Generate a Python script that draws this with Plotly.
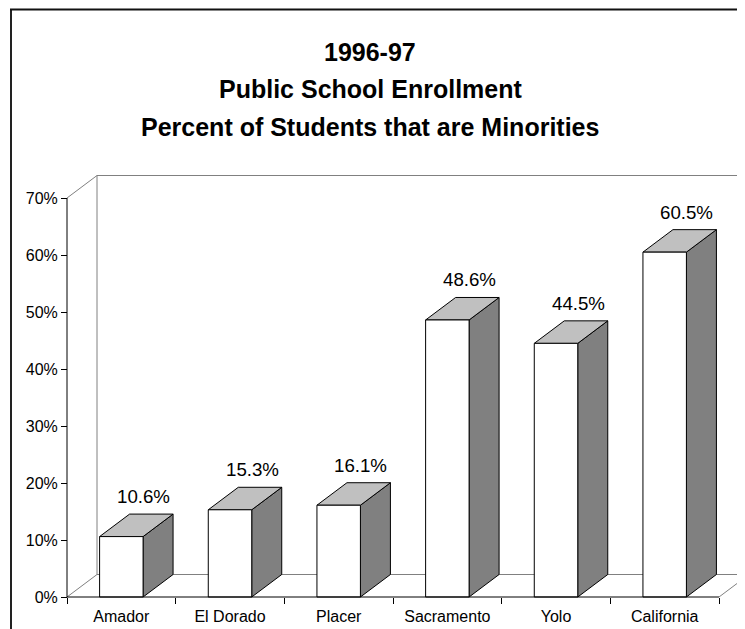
import plotly.graph_objects as go

# ---------------- data ----------------
categories = ["Amador", "El Dorado", "Placer", "Sacramento", "Yolo", "California"]
values = [10.6, 15.3, 16.1, 48.6, 44.5, 60.5]
y_ticks = [0, 10, 20, 30, 40, 50, 60, 70]
y_tick_labels = ["0%", "10%", "20%", "30%", "40%", "50%", "60%", "70%"]
title_lines = ["1996-97", "Public School Enrollment", "Percent of Students that are Minorities"]

# ---------------- layout geometry ----------------
OFF = 8                       # page body margin of the html page
W, H = 745 - OFF, 629 - OFF   # figure size so that it fills the window exactly
ML, MR, MT, MB = 30, 0, 140, 10
X0, CAT_W = 67 - OFF, 108.67  # pixel of first category boundary, width of a category
Y0, PX_PCT = 597 - OFF, 5.7   # pixel of 0 %, pixels per percent
DEPTH_X, DEPTH_Y = 30, 22.5   # 3-D depth offset in pixels
BAR_W = 0.4
FONT = "Liberation Sans, Arial, sans-serif"

x_rng = [(ML - X0) / CAT_W, (W - MR - X0) / CAT_W]
y_rng = [(Y0 - (H - MB)) / PX_PCT, (Y0 - MT) / PX_PCT]
dx = DEPTH_X / CAT_W
dy = DEPTH_Y / PX_PCT
PW, PH = W - ML - MR, H - MT - MB


def pxx(px):  # reference-window pixel -> paper x
    return (px - OFF - ML) / PW


def pxy(py):  # reference-window pixel -> paper y
    return (H - MB - (py - OFF)) / PH


n = len(categories)
ymax = y_ticks[-1]

# ---------------- bar faces ----------------
fx, fy, tx, ty, sx, sy = [], [], [], [], [], []
for i, v in enumerate(values):
    c = i + 0.5
    l, r = c - BAR_W / 2, c + BAR_W / 2
    fx += [l, r, r, l, l, None]
    fy += [0, 0, v, v, 0, None]
    tx += [l, r, r + dx, l + dx, l, None]
    ty += [v, v, v + dy, v + dy, v, None]
    sx += [r, r + dx, r + dx, r, r, None]
    sy += [0, dy, v + dy, v, 0, None]

fig = go.Figure()
for xs, ys, col in [(sx, sy, "#808080"), (tx, ty, "#c0c0c0"), (fx, fy, "#ffffff")]:
    fig.add_trace(go.Scatter(x=xs, y=ys, mode="lines", fill="toself", fillcolor=col,
                             line=dict(color="black", width=1), hoverinfo="skip",
                             showlegend=False))

# ---------------- walls / floor ----------------
gray = "#808080"
shapes = []


def seg(x0, y0, x1, y1, color, width=1, layer="below"):
    shapes.append(dict(type="line", xref="x", yref="y", x0=x0, y0=y0, x1=x1, y1=y1,
                       line=dict(color=color, width=width), layer=layer))


seg(0, ymax, dx, ymax + dy, gray)
seg(dx, dy, dx, ymax + dy, gray)
seg(dx, ymax + dy, n + dx + 1, ymax + dy, gray)
seg(dx, dy, n + dx, dy, gray)
seg(0, 0, dx, dy, gray)
seg(n, 0, n + dx, dy, gray)
seg(n + dx, dy, n + dx, ymax + dy, gray)
# front axes
seg(0, 0, 0, ymax, "black", 1, "above")
seg(0, 0, n, 0, "black", 1, "above")

# outer border (top and left of the chart frame)
shapes.append(dict(type="line", xref="paper", yref="paper", x0=pxx(11), y0=pxy(9),
                   x1=pxx(11), y1=pxy(640), line=dict(color="#222", width=2)))
shapes.append(dict(type="line", xref="paper", yref="paper", x0=pxx(10), y0=pxy(9.5),
                   x1=pxx(760), y1=pxy(9.5), line=dict(color="#111", width=2)))

# ---------------- annotations ----------------
labels = [f"{v:.1f}%" for v in values]
annotations = []
for i, (v, lab) in enumerate(zip(values, labels)):
    annotations.append(dict(x=i + 0.5 + 22 / CAT_W, y=v + dy + 17.5 / PX_PCT, xref="x", yref="y",
                            text=lab, showarrow=False, xanchor="center", yanchor="middle",
                            font=dict(family=FONT, size=18.7, color="black")))

for line, py in zip(title_lines, [52.5, 89.5, 127]):
    annotations.append(dict(x=pxx(370), y=pxy(py), xref="paper", yref="paper", text=f"<b>{line}</b>",
                            showarrow=False, xanchor="center", yanchor="middle",
                            font=dict(family=FONT, size=25, color="black")))

fig.update_layout(
    width=W, height=H,
    margin=dict(l=ML, r=MR, t=MT, b=MB, pad=0),
    paper_bgcolor="white", plot_bgcolor="white",
    showlegend=False,
    font=dict(family=FONT, color="black"),
    shapes=shapes,
    annotations=annotations,
    xaxis=dict(range=x_rng, showgrid=False, zeroline=False, showline=False,
               tickmode="array", tickvals=[i + 0.5 for i in range(n)], ticktext=categories,
               ticks="", ticklabelstandoff=8,
               tickfont=dict(family=FONT, size=16, color="black"),
               anchor="free", position=(H - MB - Y0) / PH,
               minor=dict(tickmode="array", tickvals=list(range(n + 1)), ticks="outside",
                          ticklen=6, tickwidth=1, tickcolor="black", showgrid=False)),
    yaxis=dict(range=y_rng, showgrid=False, zeroline=False, showline=False,
               tickmode="array", tickvals=y_ticks, ticktext=y_tick_labels,
               ticks="outside", ticklen=6, tickwidth=1, tickcolor="black",
               tickfont=dict(family=FONT, size=16, color="black"),
               anchor="free", position=(X0 - ML) / PW),
)

fig.write_html("out.html")
